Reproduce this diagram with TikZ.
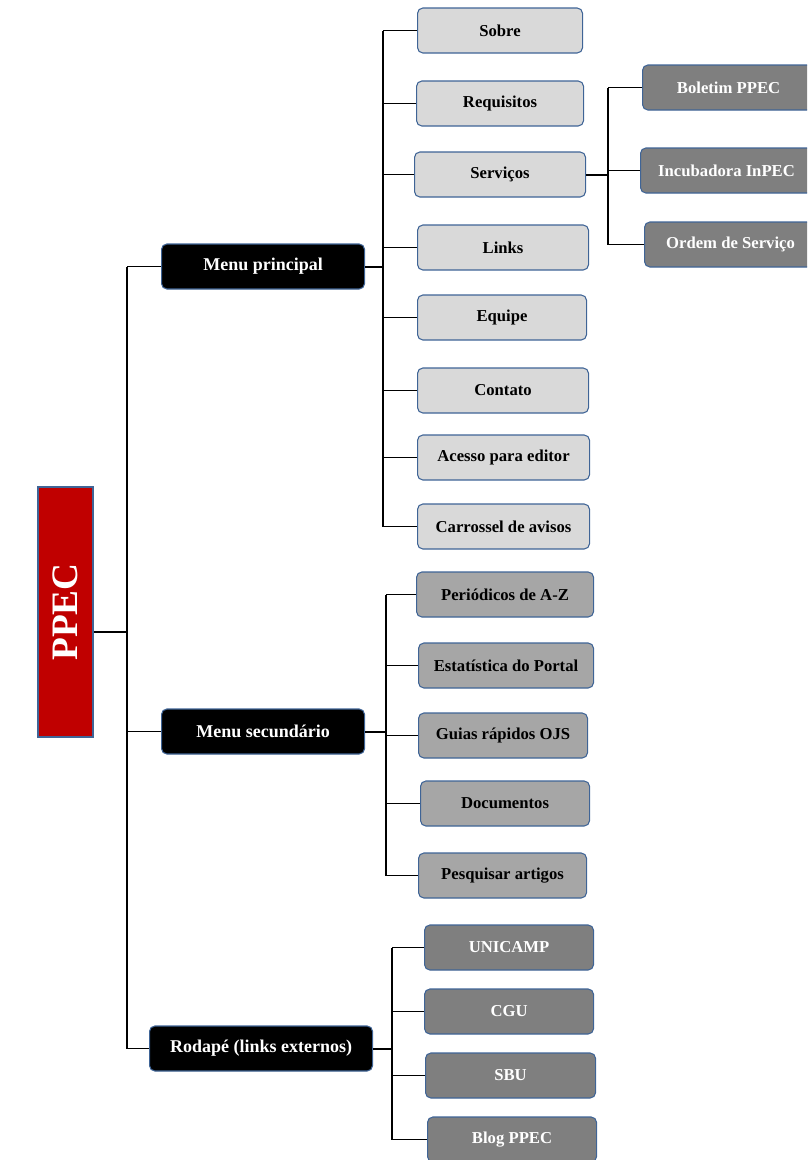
\documentclass[tikz,border=0pt]{standalone}
\usepackage{fontspec}
\setmainfont{Liberation Serif}
\usetikzlibrary{positioning}

\definecolor{ppecred}{HTML}{C00000}
\definecolor{edgeblue}{HTML}{3F6496}
\definecolor{lightbox}{HTML}{D9D9D9}
\definecolor{midbox}{HTML}{A6A6A6}
\definecolor{darkbox}{HTML}{7F7F7F}

\begin{document}
\begin{tikzpicture}[
    x=0.75pt, y=-0.75pt,
    font=\bfseries\fontsize{12.5}{14}\selectfont,
    basebox/.style={draw=edgeblue, line width=0.8pt, rounded corners=4pt, anchor=west, minimum height=33.75pt, inner sep=2pt, align=center},
    rootbox/.style={draw=edgeblue, line width=0.8pt, fill=ppecred, text=white, rotate=90, minimum width=187.5pt, minimum height=41.25pt, font=\bfseries\fontsize{28}{30}\selectfont},
    menubox/.style={basebox, fill=black, text=white, font=\bfseries\fontsize{13.5}{15}\selectfont},
    itembox/.style={basebox, fill=lightbox},
    subbox/.style={basebox, fill=darkbox, text=white},
    secbox/.style={basebox, fill=midbox},
    linkbox/.style={basebox, fill=darkbox, text=white},
    bus/.style={line width=1.5pt},
    stub/.style={line width=0.9pt}
]
  \clip (0,0) rectangle (807,1160);

  % root and menus
  \node[rootbox] (ppec) at (65.5,612) {PPEC};
  \node[menubox, minimum width=152.25pt] (mp) at (161,266.5) {Menu principal};
  \node[menubox, minimum width=152.25pt] (ms) at (161,731.5) {Menu secundário};
  \node[menubox, minimum width=167.25pt] (rod) at (149,1048.5) {Rodapé (links externos)};

  % menu principal
  \node[itembox, minimum width=123.75pt] (sobre) at (417,30.5) {Sobre};
  \node[itembox, minimum width=125.25pt] (req) at (416,103.5) {Requisitos};
  \node[itembox, minimum width=128.25pt] (serv) at (414,174.5) {Serviços};
  \node[itembox, minimum width=128.25pt] (links) at (417,247.5) {Links};
  \node[itembox, minimum width=126.75pt] (equipe) at (417,317.5) {Equipe};
  \node[itembox, minimum width=128.25pt] (contato) at (417,390.5) {Contato};
  \node[itembox, minimum width=129pt] (acesso) at (417,457.5) {Acesso para editor};
  \node[itembox, minimum width=129pt] (carr) at (417,526.5) {Carrossel de avisos};

  % servicos
  \node[subbox, minimum width=129pt] (boletim) at (642,87.5) {Boletim PPEC};
  \node[subbox, minimum width=129pt] (incub) at (640,170.5) {Incubadora InPEC};
  \node[subbox, minimum width=129pt] (ordem) at (644,244.5) {Ordem de Serviço};

  % menu secundario
  \node[secbox, minimum width=132.75pt] (per) at (416,594.5) {Periódicos de A-Z};
  \node[secbox, minimum width=131.25pt] (est) at (418,665.5) {Estatística do Portal};
  \node[secbox, minimum width=126.75pt] (guias) at (418,735.5) {Guias rápidos OJS};
  \node[secbox, minimum width=126.75pt] (docs) at (420,803.5) {Documentos};
  \node[secbox, minimum width=126pt] (pesq) at (418,875.5) {Pesquisar artigos};

  % rodape
  \node[linkbox, minimum width=126.75pt] (unicamp) at (424,947.5) {UNICAMP};
  \node[linkbox, minimum width=126.75pt] (cgu) at (424,1011.5) {CGU};
  \node[linkbox, minimum width=127.5pt] (sbu) at (425,1075.5) {SBU};
  \node[linkbox, minimum width=126.75pt] (blog) at (427,1139.5) {Blog PPEC};

  % bus points
  \coordinate (t) at (127,632);
  \coordinate (b1) at (383,266.5);
  \coordinate (b2) at (608,174.5);
  \coordinate (b3) at (386,731.5);
  \coordinate (b4) at (392,1048.5);

  % trunk
  \draw[bus] (t -| ppec.south) -- (t);
  \draw[bus] (t |- mp.west) -- (t |- rod.west);
  \foreach \n in {mp,ms,rod}
    \draw[stub] (t |- \n.west) -- (\n.west);

  % menu principal
  \draw[bus] (mp.east) -- (b1);
  \draw[bus] (b1 |- sobre.west) -- (b1 |- carr.west);
  \foreach \n in {sobre,req,serv,links,equipe,contato,acesso,carr}
    \draw[stub] (b1 |- \n.west) -- (\n.west);

  % servicos
  \draw[bus] (serv.east) -- (b2);
  \draw[bus] (b2 |- boletim.west) -- (b2 |- ordem.west);
  \foreach \n in {boletim,incub,ordem}
    \draw[stub] (b2 |- \n.west) -- (\n.west);

  % menu secundario
  \draw[bus] (ms.east) -- (b3);
  \draw[bus] (b3 |- per.west) -- (b3 |- pesq.west);
  \foreach \n in {per,est,guias,docs,pesq}
    \draw[stub] (b3 |- \n.west) -- (\n.west);

  % rodape
  \draw[bus] (rod.east) -- (b4);
  \draw[bus] (b4 |- unicamp.west) -- (b4 |- blog.west);
  \foreach \n in {unicamp,cgu,sbu,blog}
    \draw[stub] (b4 |- \n.west) -- (\n.west);
\end{tikzpicture}
\end{document}
